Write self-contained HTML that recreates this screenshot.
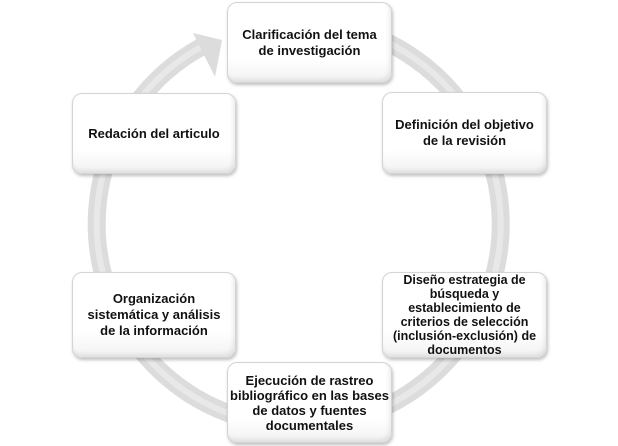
<!DOCTYPE html>
<html><head><meta charset="utf-8"><style>
body{margin:0;width:618px;height:446px;background:#fff;position:relative;overflow:hidden;font-family:"Liberation Sans",sans-serif}
.b{position:absolute;box-sizing:border-box;background:linear-gradient(#fff 70%,#f2f2f2);border:1px solid #d4d4d4;border-radius:10px;box-shadow:1px 2px 3px rgba(0,0,0,.25),inset -2px -3px 4px rgba(0,0,0,.08);display:flex;align-items:center;justify-content:center;text-align:center;font-weight:bold;font-size:13px;line-height:16px;color:#111}
</style></head><body>
<svg width="618" height="446" style="position:absolute;left:0;top:0">
<path d="M203 46 A202 202 0 1 0 320 23" fill="none" stroke="#dcdcdc" stroke-width="18"/>
<path d="M203 46 A202 202 0 1 0 320 23" fill="none" stroke="#e8e8e8" stroke-width="6"/>
<polygon points="222,40 193,33 215,77" fill="#dcdcdc"/>
</svg>
<div class="b" style="left:227px;top:2px;width:165px;height:81px">Clarificación del tema<br>de investigación</div>
<div class="b" style="left:382px;top:92px;width:165px;height:82px">Definición del objetivo<br>de la revisión</div>
<div class="b" style="left:382px;top:272px;width:165px;height:86px;font-size:12.5px;line-height:14px">Diseño estrategia de<br>búsqueda y<br>establecimiento de<br>criterios de selección<br>(inclusión-exclusión) de<br>documentos</div>
<div class="b" style="left:227px;top:362px;width:165px;height:81px;line-height:15px">Ejecución de rastreo<br>bibliográfico en las bases<br>de datos y fuentes<br>documentales</div>
<div class="b" style="left:72px;top:272px;width:164px;height:86px">Organización<br>sistemática y análisis<br>de la información</div>
<div class="b" style="left:72px;top:93px;width:164px;height:81px">Redación del articulo</div>
</body></html>
